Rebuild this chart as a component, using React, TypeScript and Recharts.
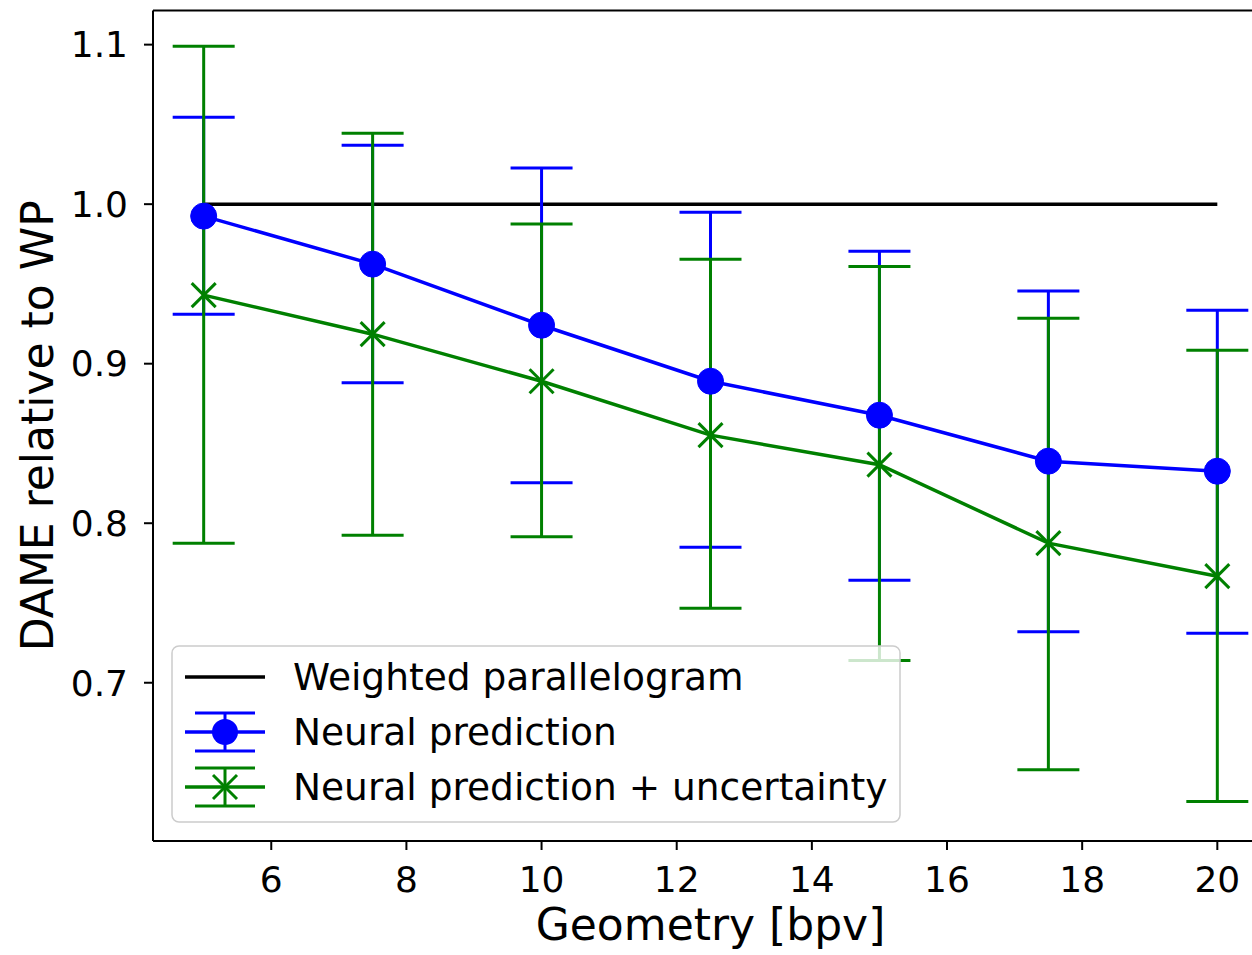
import React from 'react';
import { ComposedChart, Line, XAxis, YAxis, ErrorBar, ReferenceLine, Label } from 'recharts';

const geometry = [5, 7.5, 10, 12.5, 15, 17.5, 20];
const weightedParallelogram = [1, 1, 1, 1, 1, 1, 1];
const neural = [0.9925, 0.9624, 0.9241, 0.889, 0.8677, 0.8389, 0.8326];
const neuralLow = [0.931, 0.888, 0.8254, 0.785, 0.7643, 0.732, 0.731];
const neuralHigh = [1.0545, 1.037, 1.0226, 0.995, 0.9705, 0.9455, 0.9335];
const uncert = [0.943, 0.9185, 0.889, 0.8552, 0.8367, 0.7875, 0.7668];
const uncertLow = [0.7875, 0.7925, 0.7915, 0.7467, 0.714, 0.6455, 0.6255];
const uncertHigh = [1.099, 1.0445, 0.9875, 0.9655, 0.961, 0.9285, 0.9085];
const xTicks = [6, 8, 10, 12, 14, 16, 18, 20];
const yTicks = [0.7, 0.8, 0.9, 1.0, 1.1];
const X_DOMAIN: [number, number] = [4.25, 20.75];
const Y_DOMAIN: [number, number] = [0.6008, 1.1214];

const data = geometry.map((g, i) => ({
  g,
  wp: weightedParallelogram[i],
  neural: neural[i],
  neuralErr: [neural[i] - neuralLow[i], neuralHigh[i] - neural[i]],
  uncert: uncert[i],
  uncertErr: [uncert[i] - uncertLow[i], uncertHigh[i] - uncert[i]],
}));

const FONT = 'DejaVu Sans, sans-serif';
const BLUE = '#0000ff';
const GREEN = '#008000';

const BlueDot = (props: any) => {
  const { cx, cy, index } = props;
  return <circle key={`b${index}`} cx={cx} cy={cy} r={13} fill={BLUE} stroke={BLUE} strokeWidth={1} />;
};

const GreenX = (props: any) => {
  const { cx, cy, index } = props;
  const s = 12;
  return (
    <g key={`g${index}`}>
      <line x1={cx - s} y1={cy - s} x2={cx + s} y2={cy + s} stroke={GREEN} strokeWidth={3} />
      <line x1={cx - s} y1={cy + s} x2={cx + s} y2={cy - s} stroke={GREEN} strokeWidth={3} />
    </g>
  );
};

const LegendBox = () => (
  <svg
    width={730}
    height={178}
    style={{ position: 'absolute', left: 171, top: 645, overflow: 'visible' }}
  >
    <rect x={1} y={1} width={728} height={176} rx={7} ry={7} fill="rgba(255,255,255,0.8)" stroke="#cccccc" strokeWidth={1.5} />
    {/* Weighted parallelogram */}
    <line x1={14} y1={32} x2={94} y2={32} stroke="#000" strokeWidth={3.5} />
    <text x={122} y={45} fontFamily={FONT} fontSize={37.5} fill="#000">Weighted parallelogram</text>
    {/* Neural prediction */}
    <line x1={14} y1={87} x2={94} y2={87} stroke={BLUE} strokeWidth={3.5} />
    <line x1={54} y1={68} x2={54} y2={106} stroke={BLUE} strokeWidth={3} />
    <line x1={24} y1={68} x2={84} y2={68} stroke={BLUE} strokeWidth={3} />
    <line x1={24} y1={106} x2={84} y2={106} stroke={BLUE} strokeWidth={3} />
    <circle cx={54} cy={87} r={13} fill={BLUE} />
    <text x={122} y={100} fontFamily={FONT} fontSize={37.5} fill="#000">Neural prediction</text>
    {/* Neural prediction + uncertainty */}
    <line x1={14} y1={142} x2={94} y2={142} stroke={GREEN} strokeWidth={3.5} />
    <line x1={54} y1={123} x2={54} y2={161} stroke={GREEN} strokeWidth={3} />
    <line x1={24} y1={123} x2={84} y2={123} stroke={GREEN} strokeWidth={3} />
    <line x1={24} y1={161} x2={84} y2={161} stroke={GREEN} strokeWidth={3} />
    <line x1={42} y1={130} x2={66} y2={154} stroke={GREEN} strokeWidth={3} />
    <line x1={42} y1={154} x2={66} y2={130} stroke={GREEN} strokeWidth={3} />
    <text x={122} y={155} fontFamily={FONT} fontSize={37.5} fill="#000">Neural prediction + uncertainty</text>
  </svg>
);

export default function App() {
  return (
    <div style={{ position: 'absolute', left: 0, top: 0, width: 1252, height: 955, overflow: 'hidden', background: '#fff' }}>
      <ComposedChart
        width={1290}
        height={955}
        data={data}
        margin={{ top: 10.5, right: 22, bottom: 0, left: 0 }}
      >
        <XAxis
          type="number"
          dataKey="g"
          domain={X_DOMAIN}
          ticks={xTicks}
          allowDataOverflow
          height={114}
          tickSize={9}
          tickMargin={16}
          stroke="#000"
          strokeWidth={2}
          tick={{ fill: '#000', fontSize: 36, fontFamily: FONT }}
        >
          <Label value="Geometry [bpv]" position="insideBottom" offset={15} style={{ fontSize: 44, fontFamily: FONT, fill: '#000' }} />
        </XAxis>
        <YAxis
          type="number"
          domain={Y_DOMAIN}
          ticks={yTicks}
          allowDataOverflow
          width={153}
          tickSize={9}
          tickMargin={16}
          stroke="#000"
          strokeWidth={2}
          tickFormatter={(v: number) => v.toFixed(1)}
          tick={{ fill: '#000', fontSize: 36, fontFamily: FONT }}
        >
          <Label value="DAME relative to WP" angle={-90} position="insideLeft" offset={37} style={{ fontSize: 44, fontFamily: FONT, fill: '#000', textAnchor: 'middle' }} />
        </YAxis>
        <ReferenceLine y={Y_DOMAIN[1]} stroke="#000" strokeWidth={2} ifOverflow="visible" />
        <Line dataKey="wp" stroke="#000" strokeWidth={3.5} dot={false} isAnimationActive={false} />
        <Line dataKey="neural" stroke="none" dot={false} isAnimationActive={false}>
          <ErrorBar dataKey="neuralErr" direction="y" width={31} stroke={BLUE} strokeWidth={3} isAnimationActive={false} />
        </Line>
        <Line dataKey="uncert" stroke="none" dot={false} isAnimationActive={false}>
          <ErrorBar dataKey="uncertErr" direction="y" width={31} stroke={GREEN} strokeWidth={3} isAnimationActive={false} />
        </Line>
        <Line dataKey="neural" stroke={BLUE} strokeWidth={3.5} dot={BlueDot} isAnimationActive={false} />
        <Line dataKey="uncert" stroke={GREEN} strokeWidth={3.5} dot={GreenX} isAnimationActive={false} />
      </ComposedChart>
      <LegendBox />
    </div>
  );
}
